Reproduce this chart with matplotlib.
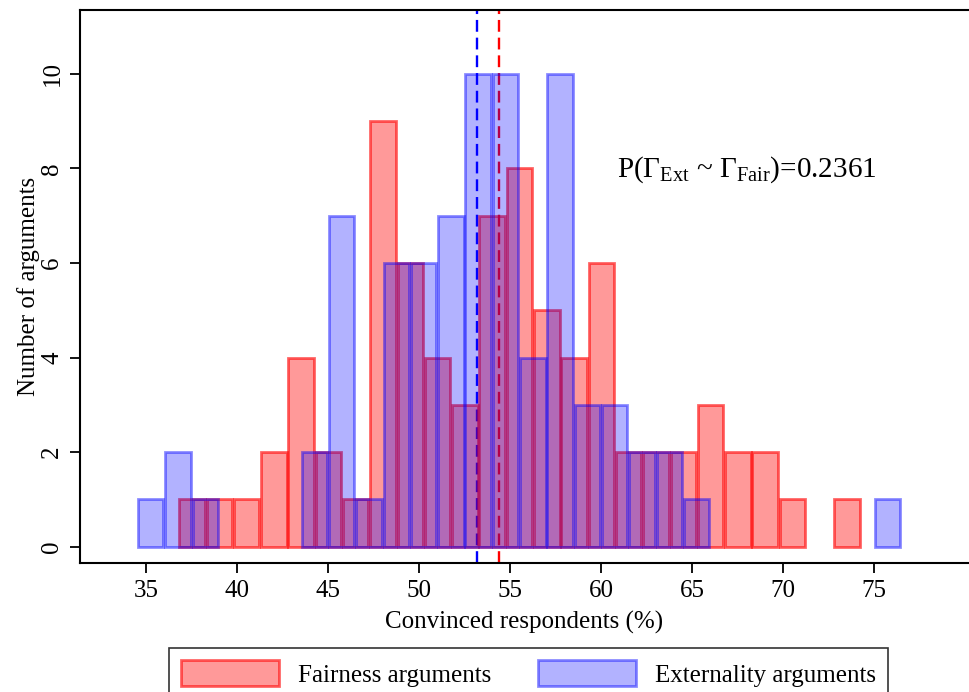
import numpy as np
import matplotlib
matplotlib.use('Agg')
import matplotlib.pyplot as plt

# histogram counts (bin width 1.5)
bin_width = 1.5
fair_start = 36.77
fair_counts = [1, 1, 1, 2, 4, 2, 1, 9, 6, 4, 3, 7, 8, 5, 4, 6, 2, 2, 2, 3, 2, 2, 1, 0, 1]
ext_start = 34.5
ext_counts = [1, 2, 1, 0, 0, 0, 2, 7, 1, 6, 6, 7, 10, 10, 4, 10, 3, 3, 2, 2, 1, 0, 0, 0, 0, 0, 0, 1]
mean_fair = 54.40
mean_ext = 53.19
p_value = 0.2361

plt.rcParams['font.family'] = 'Liberation Serif'
plt.rcParams['mathtext.fontset'] = 'custom'
plt.rcParams['mathtext.rm'] = 'Liberation Serif'
plt.rcParams['mathtext.it'] = 'Liberation Serif:italic'

fig = plt.figure(figsize=(9.69, 6.92), dpi=100)
ax = fig.add_axes([0.0826, 0.1864, 0.9174, 0.7991])

red_face = (1, 0, 0, 0.4)
red_edge = (1, 0, 0, 0.6)
blue_face = (0, 0, 1, 0.3)
blue_edge = (0, 0, 1, 0.45)

fair_counts = np.array(fair_counts)
ext_counts = np.array(ext_counts)
fair_x = fair_start + bin_width * np.arange(len(fair_counts))
ext_x = ext_start + bin_width * np.arange(len(ext_counts))
fk = fair_counts > 0
ek = ext_counts > 0

ax.axvline(mean_ext, color='blue', ls=(0, (5, 2.5)), lw=1.7, zorder=1)
ax.axvline(mean_fair, color='red', ls=(0, (5, 2.5)), lw=1.7, zorder=1)

ax.bar(fair_x[fk] + 0.05, fair_counts[fk], width=bin_width - 0.1, align='edge',
       facecolor=red_face, edgecolor=red_edge, linewidth=2, zorder=2,
       label='Fairness arguments')
ax.bar(ext_x[ek] + 0.05, ext_counts[ek], width=bin_width - 0.1, align='edge',
       facecolor=blue_face, edgecolor=blue_edge, linewidth=2, zorder=3,
       label='Externality arguments')

ax.set_xlim(31.37, 80.22)
ax.set_ylim(-0.345, 11.35)
ax.set_xticks(np.arange(35, 80, 5))
ax.set_yticks(np.arange(0, 12, 2))
ax.spines['right'].set_visible(False)
for s in ['left', 'bottom', 'top']:
    ax.spines[s].set_linewidth(1.5)
ax.tick_params(direction='out', length=7, width=1.3, labelsize=18)
ax.tick_params(axis='y', pad=5)
ax.tick_params(axis='x', pad=5)
for lab in ax.get_yticklabels():
    lab.set_rotation(90)
    lab.set_va('center')

ax.set_xlabel('Convinced respondents (%)', fontsize=18, labelpad=7)
ax.set_ylabel('Number of arguments', fontsize=18, labelpad=1)

ax.text(0.604, 0.711,
        r'P($\Gamma_{\mathrm{Ext}}$ ~ $\Gamma_{\mathrm{Fair}}$)=' + f'{p_value:.4f}',
        transform=ax.transAxes, fontsize=21, ha='left', va='center')

leg = fig.legend(loc='upper center', bbox_to_anchor=(0.5454, 0.0636), ncol=2,
                 fontsize=18, frameon=True, fancybox=False, edgecolor='black',
                 handlelength=3.9, handleheight=1.2, handletextpad=0.75,
                 columnspacing=1.9, borderpad=0.5, borderaxespad=0)
leg.get_frame().set_linewidth(1.2)

fig.savefig('out.png', dpi=100)
